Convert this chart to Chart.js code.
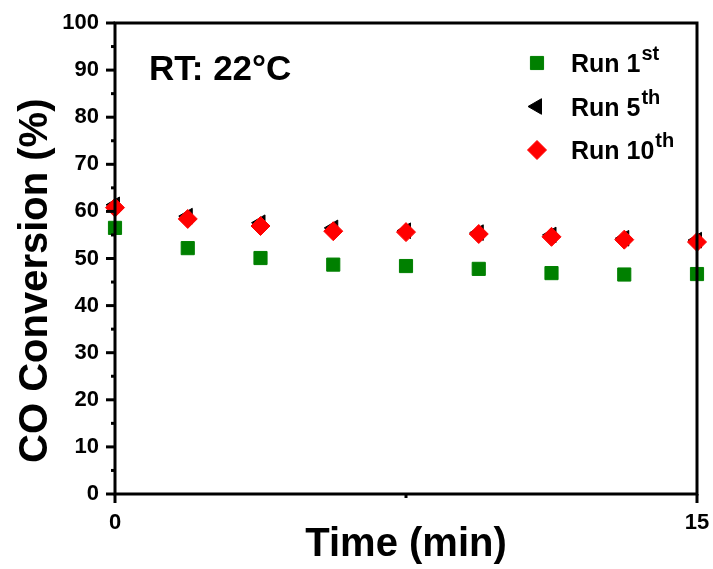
<!DOCTYPE html>
<html>
<head>
<meta charset="utf-8">
<script src="https://cdn.jsdelivr.net/npm/chart.js@4.4.0/dist/chart.umd.min.js"></script>
<style>
  html, body { margin: 0; padding: 0; background: #fff; }
  #wrap { width: 713px; height: 569px; }
</style>
</head>
<body>
<div id="wrap"><canvas id="chart" width="713" height="569"></canvas></div>
<script>
// time points (min)
const times = [0, 1.875, 3.75, 5.625, 7.5, 9.375, 11.25, 13.125, 15];
// CO conversion (%) for each run
const run1 = [56.5, 52.2, 50.1, 48.7, 48.4, 47.8, 46.9, 46.6, 46.7];
const run5 = [61.4, 59.0, 57.6, 56.5, 55.9, 55.5, 55.0, 54.3, 53.9];
const run10 = [60.8, 58.4, 56.9, 55.8, 55.6, 55.2, 54.6, 54.0, 53.5];
const yTicks = [0, 10, 20, 30, 40, 50, 60, 70, 80, 90, 100];
const xTicks = [0, 15];

const FONT = "'Liberation Sans', Arial, sans-serif";

function toXY(vals) {
    return times.map((t, i) => ({ x: t, y: vals[i] }));
}

// legend entries: main text + superscript
const legendItems = [
    { idx: 0, main: 'Run 1', sup: 'st' },
    { idx: 1, main: 'Run 5', sup: 'th' },
    { idx: 2, main: 'Run 10', sup: 'th' }
];

// frame, tick marks, annotation and legend with superscripts
const decorPlugin = {
    id: 'decor',
    afterDatasetsDraw(chart) {
        const ctx = chart.ctx;
        const a = chart.chartArea;
        const xs = chart.scales.x, ys = chart.scales.y;
        ctx.save();
        ctx.strokeStyle = '#000';
        ctx.lineWidth = 3;
        ctx.strokeRect(a.left, a.top, a.right - a.left, a.bottom - a.top);

        // y ticks (major every 10, minor every 5)
        for (let v = 0; v <= 100; v += 5) {
            const y = ys.getPixelForValue(v);
            const len = v % 10 === 0 ? 9 : 4;
            ctx.beginPath();
            ctx.moveTo(a.left - len, y);
            ctx.lineTo(a.left, y);
            ctx.stroke();
        }
        // x ticks
        xTicks.forEach(v => {
            const x = xs.getPixelForValue(v);
            ctx.beginPath();
            ctx.moveTo(x, a.bottom);
            ctx.lineTo(x, a.bottom + 9);
            ctx.stroke();
        });
        const xm = xs.getPixelForValue(7.5);
        ctx.beginPath();
        ctx.moveTo(xm, a.bottom);
        ctx.lineTo(xm, a.bottom + 4);
        ctx.stroke();

        // annotation
        ctx.fillStyle = '#000';
        ctx.font = 'bold 35px ' + FONT;
        ctx.textBaseline = 'alphabetic';
        ctx.textAlign = 'left';
        ctx.fillText('RT: 22\u00B0C', a.left + 34, a.top + 57);

        // legend
        const lx = a.left + 422, ly = a.top + 40, step = 43.5;
        legendItems.forEach((it, k) => {
            const ds = chart.data.datasets[it.idx];
            const cy = ly + k * step;
            ctx.fillStyle = ds.backgroundColor;
            ctx.strokeStyle = ds.borderColor;
            ctx.lineWidth = 1;
            Chart.helpers.drawPoint(ctx, {
                pointStyle: ds.pointStyle,
                radius: ds.pointRadius,
                rotation: ds.rotation || 0,
                borderWidth: 1
            }, lx, cy);
            ctx.fillStyle = '#000';
            ctx.font = 'bold 25px ' + FONT;
            const tx = lx + 34, base = cy + 9;
            ctx.fillText(it.main, tx, base);
            const w = ctx.measureText(it.main).width;
            ctx.font = 'bold 20px ' + FONT;
            ctx.fillText(it.sup, tx + w + 1, base - 12);
        });
        ctx.restore();
    }
};

new Chart(document.getElementById('chart'), {
    type: 'scatter',
    data: {
        datasets: [{
            label: 'Run 1st',
            data: toXY(run1),
            order: 2,
            pointStyle: 'rect',
            pointRadius: 9.3,
            backgroundColor: '#008000',
            borderColor: '#008000',
            borderWidth: 1
        }, {
            label: 'Run 5th',
            data: toXY(run5),
            order: 1,
            pointStyle: 'triangle',
            rotation: -90,
            pointRotation: -90,
            pointRadius: 9,
            backgroundColor: '#000000',
            borderColor: '#000000',
            borderWidth: 1
        }, {
            label: 'Run 10th',
            data: toXY(run10),
            order: 0,
            pointStyle: 'rectRot',
            pointRadius: 9.5,
            backgroundColor: '#ff0000',
            borderColor: '#ff0000',
            borderWidth: 1
        }]
    },
    options: {
        responsive: false,
        animation: false,
        clip: false,
        layout: { padding: { top: 23, right: 16, left: 0, bottom: 0 } },
        plugins: {
            legend: { display: false },
            tooltip: { enabled: false }
        },
        scales: {
            x: {
                type: 'linear',
                min: 0,
                max: 15,
                afterBuildTicks(s) { s.ticks = xTicks.map(v => ({ value: v })); },
                afterFit(s) {
                    s.height = 75;
                    s.paddingLeft = 0;
                    s.paddingRight = 0;
                },
                grid: { display: false },
                border: { display: false },
                ticks: {
                    color: '#000',
                    padding: 8,
                    maxRotation: 0,
                    font: { family: FONT, size: 22, weight: 'bold' }
                },
                title: {
                    display: true,
                    text: 'Time (min)',
                    color: '#000',
                    padding: { top: 0, bottom: 0 },
                    font: { family: FONT, size: 40, weight: 'bold' }
                }
            },
            y: {
                min: 0,
                max: 100,
                afterBuildTicks(s) { s.ticks = yTicks.map(v => ({ value: v })); },
                afterFit(s) {
                    s.width = 115;
                    s.paddingTop = 0;
                    s.paddingBottom = 0;
                },
                grid: { display: false },
                border: { display: false },
                ticks: {
                    color: '#000',
                    padding: 8,
                    font: { family: FONT, size: 22, weight: 'bold' }
                },
                title: {
                    display: true,
                    text: 'CO Conversion (%)    ',
                    color: '#000',
                    padding: { top: 12, bottom: 0 },
                    font: { family: FONT, size: 40, weight: 'bold' }
                }
            }
        }
    },
    plugins: [decorPlugin]
});
</script>
</body>
</html>
